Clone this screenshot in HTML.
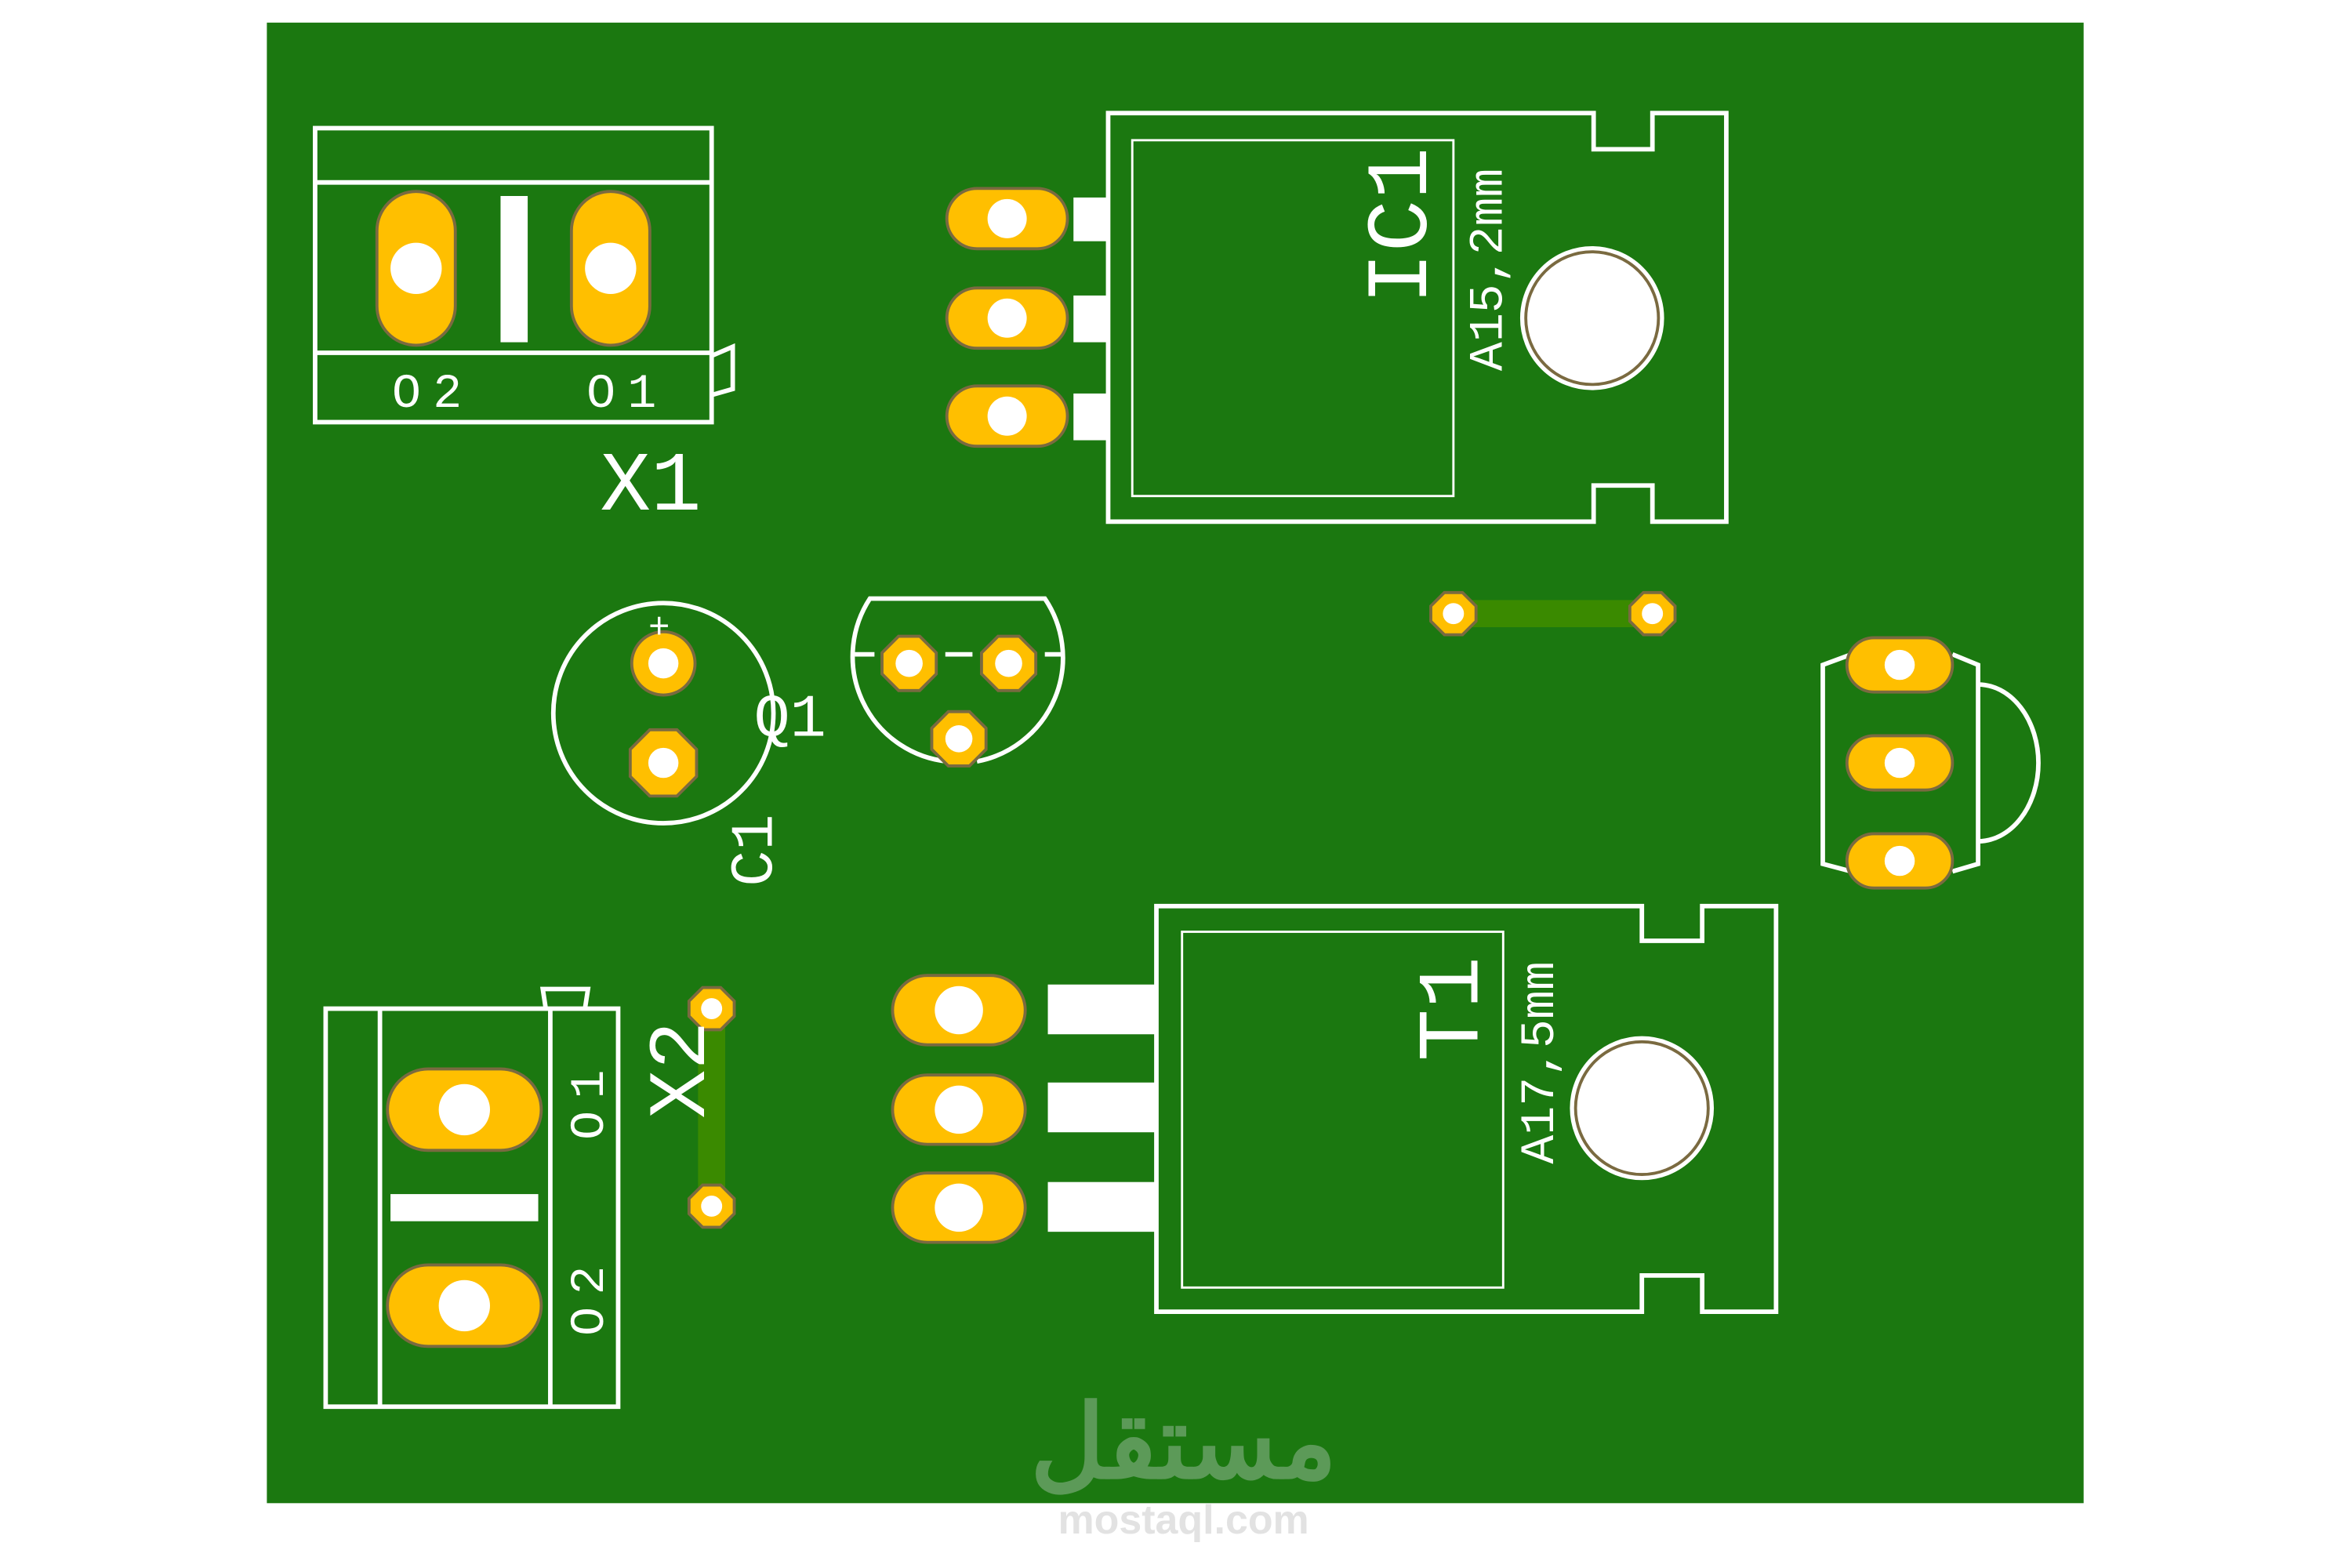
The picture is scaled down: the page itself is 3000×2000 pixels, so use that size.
<!DOCTYPE html>
<html><head><style>html,body{margin:0;padding:0;background:#fff}svg{display:block}</style></head>
<body>
<svg width="3000" height="2000" viewBox="0 0 1560 1040" preserveAspectRatio="none" xmlns="http://www.w3.org/2000/svg" font-family="Liberation Sans, sans-serif">
<rect x="177" y="15" width="1205" height="982" fill="#1b7810"/>
<g fill="none" stroke="#fff" stroke-width="3">
<rect x="209" y="85" width="263" height="195"/>
<line x1="209" y1="121" x2="472" y2="121"/><line x1="209" y1="234" x2="472" y2="234"/>
<polyline points="472,236 486,230 486,258 472,262"/>
<polygon points="735,75 1057,75 1057,99 1096,99 1096,75 1145,75 1145,346 1096,346 1096,322 1057,322 1057,346 735,346"/>
<rect x="751" y="93" width="213" height="236" stroke-width="1.5"/>
<polygon points="767,601 1089,601 1089,624 1129,624 1129,601 1178,601 1178,870 1129,870 1129,846 1089,846 1089,870 767,870"/>
<rect x="784" y="618" width="213" height="236" stroke-width="1.5"/>
<circle cx="440" cy="473" r="73"/>
<path d="M628,505 A70,70 0 0 1 577,397 L693,397 A70,70 0 0 1 648,505"/>
<line x1="567" y1="434" x2="580" y2="434"/><line x1="627" y1="434" x2="645" y2="434"/><line x1="693" y1="434" x2="705" y2="434"/>
<polyline points="1228,434 1209,441 1209,573 1228,578"/>
<polyline points="1295,434 1312,441 1312,573 1295,578"/>
<path d="M1312,454 A40,52 0 0 1 1312,558"/>
<rect x="216" y="669" width="194" height="264"/>
<line x1="252" y1="669" x2="252" y2="933"/><line x1="365" y1="669" x2="365" y2="933"/>
<polyline points="362,669 360,656 390,656 388,669"/>
</g>
<g fill="#fff">
<rect x="332" y="130" width="18" height="97"/>
<rect x="712" y="131" width="23" height="29"/><rect x="712" y="196" width="23" height="31"/><rect x="712" y="261" width="23" height="31"/>
<rect x="695" y="653" width="72" height="33"/><rect x="695" y="718" width="72" height="33"/><rect x="695" y="784" width="72" height="33"/>
<rect x="259" y="792" width="98" height="18"/>
</g>
<rect x="964" y="398" width="132" height="18" fill="#3a8a00"/>
<rect x="463" y="669" width="18" height="131" fill="#3a8a00"/>
<g fill="#ffbf00" stroke="#7a6a40" stroke-width="2">
<rect x="250" y="127" width="52" height="102" rx="26"/><rect x="379" y="127" width="52" height="102" rx="26"/>
<rect x="628" y="125" width="80" height="40" rx="20"/><rect x="628" y="191" width="80" height="40" rx="20"/><rect x="628" y="256" width="80" height="40" rx="20"/>
<rect x="592" y="647" width="88" height="46" rx="23"/><rect x="592" y="713" width="88" height="46" rx="23"/><rect x="592" y="778" width="88" height="46" rx="23"/>
<rect x="257" y="709" width="102" height="54" rx="27"/><rect x="257" y="839" width="102" height="54" rx="27"/>
<rect x="1225" y="423" width="70" height="36" rx="18"/><rect x="1225" y="488" width="70" height="36" rx="18"/><rect x="1225" y="553" width="70" height="36" rx="18"/>
<circle cx="440" cy="440" r="21"/>
<polygon points="431,484 449,484 462,497 462,515 449,528 431,528 418,515 418,497"/>
<polygon points="596,422 610,422 621,433 621,447 610,458 596,458 585,447 585,433"/>
<polygon points="662,422 676,422 687,433 687,447 676,458 662,458 651,447 651,433"/>
<polygon points="629,472 643,472 654,483 654,497 643,508 629,508 618,497 618,483"/>
<polygon points="958,393 970,393 979,402 979,412 970,421 958,421 949,412 949,402"/>
<polygon points="1090,393 1102,393 1111,402 1111,412 1102,421 1090,421 1081,412 1081,402"/>
<polygon points="466,655 478,655 487,664 487,674 478,683 466,683 457,674 457,664"/>
<polygon points="466,786 478,786 487,795 487,805 478,814 466,814 457,805 457,795"/>
</g>
<g fill="#fff">
<ellipse cx="276" cy="178" rx="17" ry="17"/><ellipse cx="405" cy="178" rx="17" ry="17"/>
<circle cx="668" cy="145" r="13"/><circle cx="668" cy="211" r="13"/><circle cx="668" cy="276" r="13"/>
<circle cx="636" cy="670" r="16"/><circle cx="636" cy="736" r="16"/><circle cx="636" cy="801" r="16"/>
<circle cx="308" cy="736" r="17"/><circle cx="308" cy="866" r="17"/>
<circle cx="1260" cy="441" r="10"/><circle cx="1260" cy="506" r="10"/><circle cx="1260" cy="571" r="10"/>
<circle cx="440" cy="440" r="10"/><circle cx="440" cy="506" r="10"/>
<circle cx="603" cy="440" r="9"/><circle cx="669" cy="440" r="9"/><circle cx="636" cy="490" r="9"/>
<circle cx="964" cy="407" r="7"/><circle cx="1096" cy="407" r="7"/>
<circle cx="472" cy="669" r="7"/><circle cx="472" cy="800" r="7"/>
</g>
<g fill="#fff" stroke="#fff" stroke-width="1.5"><circle cx="1056" cy="211" r="47"/><circle cx="1089" cy="735" r="47"/></g>
<g fill="none" stroke="#7a6a40" stroke-width="2"><circle cx="1056" cy="211" r="44"/><circle cx="1089" cy="735" r="44"/></g>
<g fill="#fff" font-family="Liberation Mono, monospace">
<text x="260" y="270" font-size="32" letter-spacing="8">O2</text><text x="389" y="270" font-size="32" letter-spacing="8">O1</text>
<text x="398" y="338" font-size="56">X1</text>
<text x="430" y="423" font-size="24">+</text>
<text x="500" y="488" font-size="40">Q1</text>
<text transform="translate(512,588) rotate(-90)" font-size="40">C1</text>
<text transform="translate(946,202) rotate(-90)" font-size="58">IC1</text>
<text transform="translate(996,246) rotate(-90)" font-size="32">A15,2mm</text>
<text transform="translate(980,704) rotate(-90)" font-size="58">T1</text>
<text transform="translate(1030,772) rotate(-90)" font-size="32">A17,5mm</text>
<text transform="translate(467,742) rotate(-90)" font-size="54">X2</text>
<text transform="translate(400,756) rotate(-90)" font-size="32" letter-spacing="8">O1</text>
<text transform="translate(400,886) rotate(-90)" font-size="32" letter-spacing="8">O2</text>
</g>
<text x="785" y="980" font-size="68" font-weight="bold" fill="#5c9a58" text-anchor="middle" font-family="Liberation Sans, 'Noto Sans CJK SC', sans-serif">مستقل</text>
<text x="785" y="1017" font-size="27" font-weight="bold" fill="#e2e2e2" text-anchor="middle">mostaql.com</text>
</svg>
</body></html>
